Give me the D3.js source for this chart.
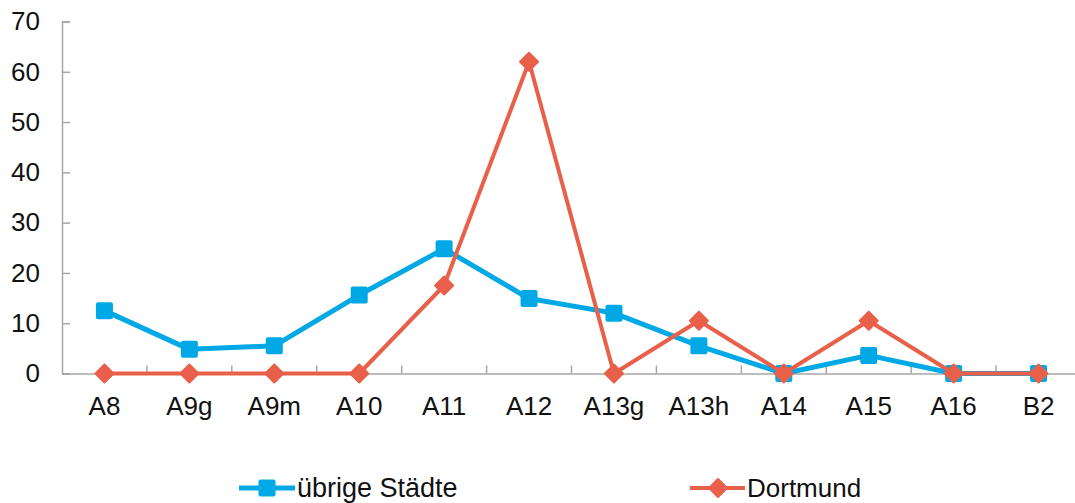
<!DOCTYPE html>
<html><head><meta charset="utf-8">
<script src="https://cdn.jsdelivr.net/npm/d3@7"></script>
<style>body{margin:0;background:#fff}svg{display:block}text{font-family:"Liberation Sans",Arial,sans-serif}</style>
</head><body><svg id="c" width="1075" height="503"></svg>
<script>
const categories = ["A8","A9g","A9m","A10","A11","A12","A13g","A13h","A14","A15","A16","B2"];
const uebrige = [12.5,4.8,5.5,15.6,24.8,14.9,12.0,5.5,0,3.6,0,0];
const dortmund = [0,0,0,0,17.5,62,0,10.5,0,10.5,0,0];
const yTicks = [0,10,20,30,40,50,60,70];
const seriesNames = ["übrige Städte","Dortmund"];

const svg = d3.select("#c");
const x0 = 62, x1 = 1081, yTop = 21.5, yBot = 373.5;
const x = d3.scaleBand().domain(categories).range([x0,x1]);
const y = d3.scaleLinear().domain([0,70]).range([yBot,yTop]);
const axisColor = "#a6a6a6";
const blue = "#00a9e6", orange = "#e8604a";
const fs = 26;

// y axis
const ya = svg.append("g").attr("transform",`translate(${x0},0)`)
  .call(d3.axisLeft(y).tickValues(yTicks).tickSize(-8).tickPadding(22).tickFormat(d3.format("d")));
ya.select(".domain").attr("stroke",axisColor).attr("stroke-width",1.5);
ya.selectAll(".tick line").attr("stroke",axisColor).attr("stroke-width",1.5);
ya.selectAll("text").attr("font-size",fs).attr("fill","#111");

// x axis
const xa = svg.append("g").attr("transform",`translate(0,${yBot})`)
  .call(d3.axisBottom(x).tickSize(0).tickPadding(23));
xa.select(".domain").attr("stroke",axisColor).attr("stroke-width",1.5);
xa.selectAll("text").attr("font-size",fs).attr("fill","#111");
// boundary ticks
const bounds = categories.map(c=>x(c)).slice(1).concat([x1]);
svg.append("g").selectAll("line").data(bounds).join("line")
  .attr("x1",d=>d).attr("x2",d=>d).attr("y1",yBot).attr("y2",yBot-8)
  .attr("stroke",axisColor).attr("stroke-width",1.5);

const cx = c => x(c)+x.bandwidth()/2;
const line = d3.line().x((d,i)=>cx(categories[i])).y(d=>y(d));

function diamond(g, px, py, r){
  g.append("path").attr("d",`M${px},${py-r}L${px+r},${py}L${px},${py+r}L${px-r},${py}Z`)
   .attr("fill",orange).attr("stroke",orange).attr("stroke-width",2).attr("stroke-linejoin","round");
}
function square(g, px, py, s){
  g.append("rect").attr("x",px-s/2).attr("y",py-s/2).attr("width",s).attr("height",s).attr("rx",2)
   .attr("fill",blue);
}

// blue series
const gb = svg.append("g");
gb.append("path").datum(uebrige).attr("d",line).attr("fill","none").attr("stroke",blue).attr("stroke-width",5).attr("stroke-linejoin","round");
uebrige.forEach((v,i)=>square(gb,cx(categories[i]),y(v),17));

// orange series
const go = svg.append("g");
go.append("path").datum(dortmund).attr("d",line).attr("fill","none").attr("stroke",orange).attr("stroke-width",4).attr("stroke-linejoin","round");
dortmund.forEach((v,i)=>diamond(go,cx(categories[i]),y(v),9));

// legend
const ly = 488;
const lg = svg.append("g");
lg.append("line").attr("x1",239).attr("x2",295).attr("y1",ly).attr("y2",ly).attr("stroke",blue).attr("stroke-width",5);
square(lg,267,ly,17);
lg.append("text").attr("x",297).attr("y",ly).attr("dy","0.35em").attr("font-size",27).attr("fill","#111").text(seriesNames[0]);
lg.append("line").attr("x1",690).attr("x2",745).attr("y1",ly).attr("y2",ly).attr("stroke",orange).attr("stroke-width",4);
diamond(lg,718,ly,9);
lg.append("text").attr("x",747).attr("y",ly).attr("dy","0.35em").attr("font-size",26).attr("fill","#111").text(seriesNames[1]);
</script></body></html>
